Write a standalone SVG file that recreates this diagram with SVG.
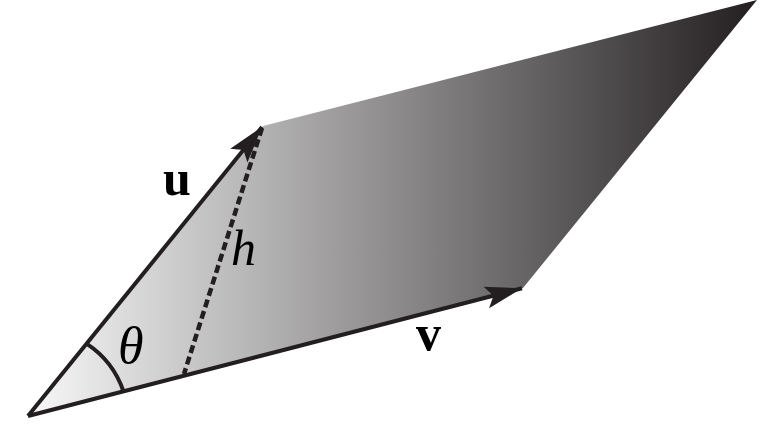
<svg xmlns="http://www.w3.org/2000/svg" width="776" height="447" viewBox="0 0 776 447">
<style>
.edge{fill:none;stroke:#231f20;stroke-width:4;stroke-linecap:butt}
.dash{fill:none;stroke:#231f20;stroke-width:4.5;stroke-dasharray:8 4}
.lbl{font-family:"Liberation Serif","Times New Roman",serif;fill:#000}
.bold{font-weight:bold}
.it{font-style:italic}
</style>
<defs>
<linearGradient id="g" gradientUnits="userSpaceOnUse" x1="28" y1="0" x2="757" y2="0">
<stop offset="0" stop-color="#f8f8f8"/>
<stop offset="1" stop-color="#231f20"/>
</linearGradient>
<marker id="ah" markerUnits="userSpaceOnUse" markerWidth="40" markerHeight="30" viewBox="-36 -12 38 24" refX="0" refY="0" orient="auto">
<path d="M0,0 L-35,-10.5 L-28,0 L-35,10.5 z" fill="#231f20"/>
</marker>
</defs>
<g id="parallelogram">
<polygon points="28,416 263,126 757,0 523,288" fill="url(#g)"/>
</g>
<g id="connectors">
<line id="u" class="edge" x1="28" y1="416" x2="262" y2="127" marker-end="url(#ah)"/>
<line id="v" class="edge" x1="28" y1="416" x2="522" y2="288.3" marker-end="url(#ah)"/>
<line id="h" class="dash" x1="262" y1="128" x2="184" y2="374"/>
<path id="angle" class="edge" d="M86.5,343.7 A93,93 0 0 1 123.5,391.5"/>
</g>
<g id="labels">
<text class="lbl bold" x="163" y="195" font-size="50">u</text>
<text class="lbl bold" x="416" y="350" font-size="50">v</text>
<text class="lbl it" x="118" y="363" font-size="52">θ</text>
<text class="lbl it" x="231" y="265" font-size="50">h</text>
</g>
</svg>
